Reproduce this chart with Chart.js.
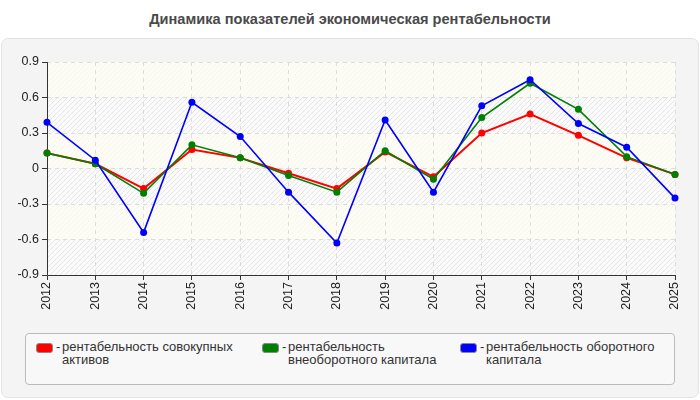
<!DOCTYPE html>
<html>
<head>
<meta charset="utf-8">
<script src="https://cdn.jsdelivr.net/npm/chart.js@4/dist/chart.umd.min.js"></script>
<style>
  body { margin: 0; width: 700px; height: 400px; background: #fff; font-family: "Liberation Sans", Arial, sans-serif; position: relative; overflow: hidden; }
  #title { position: absolute; top: 11px; left: 0; width: 700px; text-align: center; font-weight: bold; font-size: 14.6px; color: #4a4a4a; }
  #panel { position: absolute; left: 1px; top: 38px; width: 696px; height: 358px; background: #f4f4f4; border: 1px solid #e4e4e4; border-radius: 7px; }
  #wrap { position: absolute; left: 0; top: 0; width: 700px; height: 400px; }
  #legend { position: absolute; left: 25px; top: 333px; width: 648px; height: 50px; border: 1px solid #bbb; border-radius: 4px; background: #f8f8f8; }
  .item { position: absolute; top: 6px; font-size: 13px; color: #333; line-height: 13px; }
  .sw { position: absolute; left: 0; top: 3px; width: 15px; height: 8px; border-radius: 3px; border: 1px solid #888; }
  .txt { position: absolute; left: 26px; top: 0; }
  .dash { position: absolute; left: 20px; top: 0; }
</style>
</head>
<body>
<div id="title">Динамика показателей экономическая рентабельности</div>
<div id="panel"></div>
<div id="wrap"><canvas id="chart" width="700" height="400"></canvas></div>
<div id="legend"></div>
<script>
// Years and series values
const years = ['2012', '2013', '2014', '2015', '2016', '2017', '2018', '2019', '2020', '2021', '2022', '2023', '2024', '2025'];
const totalAssets = [0.13, 0.04, -0.17, 0.16, 0.09, -0.04, -0.17, 0.14, -0.07, 0.30, 0.46, 0.28, 0.09, -0.05];
const fixedCapital = [0.13, 0.04, -0.21, 0.20, 0.09, -0.06, -0.20, 0.15, -0.09, 0.43, 0.72, 0.50, 0.10, -0.05];
const workingCapital = [0.39, 0.07, -0.54, 0.56, 0.27, -0.20, -0.63, 0.41, -0.20, 0.53, 0.75, 0.38, 0.18, -0.25];
const seriesLabels = ['рентабельность совокупных активов', 'рентабельность внеоборотного капитала', 'рентабельность оборотного капитала'];
const seriesColors = ['#ff0000', '#008000', '#0000ff'];
const yTicks = [-0.9, -0.6, -0.3, 0, 0.3, 0.6, 0.9];

// Striped / hatched plot background
const bandsPlugin = {
    id: 'bands',
    beforeDraw(chart) {
        const { ctx, chartArea, scales } = chart;
        const y = scales.y;
        const hatch = document.createElement('canvas');
        hatch.width = 5; hatch.height = 5;
        const h = hatch.getContext('2d');
        h.strokeStyle = '#e6e6e6';
        h.lineWidth = 1;
        h.beginPath(); h.moveTo(0, 5); h.lineTo(5, 0); h.stroke();
        const pattern = ctx.createPattern(hatch, 'repeat');
        ctx.save();
        for (let i = 0; i < yTicks.length - 1; i++) {
            const top = y.getPixelForValue(yTicks[yTicks.length - 1 - i]);
            const bottom = y.getPixelForValue(yTicks[yTicks.length - 2 - i]);
            ctx.fillStyle = i % 2 === 0 ? '#fdfdf5' : '#fbfbfb';
            ctx.fillRect(chartArea.left, top, chartArea.right - chartArea.left, bottom - top);
            ctx.globalAlpha = i % 2 === 0 ? 0.3 : 1;
            ctx.fillStyle = pattern;
            ctx.fillRect(chartArea.left, top, chartArea.right - chartArea.left, bottom - top);
            ctx.globalAlpha = 1;
        }
        ctx.restore();
    },
    // solid axis lines on the left and bottom
    beforeDatasetsDraw(chart) {
        const { ctx, chartArea } = chart;
        ctx.save();
        ctx.strokeStyle = '#333';
        ctx.lineWidth = 1;
        ctx.setLineDash([]);
        ctx.beginPath();
        ctx.moveTo(chartArea.left + 0.5, chartArea.top);
        ctx.lineTo(chartArea.left + 0.5, chartArea.bottom + 0.5);
        ctx.lineTo(chartArea.right, chartArea.bottom + 0.5);
        ctx.stroke();
        ctx.restore();
    }
};

const ctx = document.getElementById('chart').getContext('2d');
new Chart(ctx, {
    type: 'line',
    data: {
        labels: years,
        datasets: [totalAssets, fixedCapital, workingCapital].map((d, i) => ({
            label: seriesLabels[i],
            data: d,
            borderColor: seriesColors[i],
            backgroundColor: seriesColors[i],
            borderWidth: i === 0 ? 2 : 1.6,
            pointRadius: 3.5,
            pointBorderWidth: 0,
            tension: 0,
            order: 2 - i
        }))
    },
    options: {
        responsive: false,
        animation: false,
        layout: { padding: { top: 62, right: 25, bottom: 0, left: 0 } },
        plugins: { legend: { display: false }, tooltip: { enabled: false } },
        scales: {
            x: {
                afterFit: s => { s.height = 125; },
                grid: { color: '#dcdcdc', tickColor: '#333', tickLength: 5, tickBorderDash: [] },
                border: { display: false, dash: [4, 4] },
                ticks: { color: '#222', font: { family: 'Liberation Sans', size: 12.5 }, minRotation: 90, maxRotation: 90, padding: 2 }
            },
            y: {
                min: -0.9, max: 0.9,
                afterFit: s => { s.width = 47; },
                afterBuildTicks: s => { s.ticks = yTicks.map(v => ({ value: v })); },
                grid: { color: '#dcdcdc', tickColor: '#333', tickLength: 5, tickBorderDash: [] },
                border: { display: false, dash: [4, 4] },
                ticks: { color: '#222', font: { family: 'Liberation Sans', size: 12.5 }, padding: 3, callback: v => String(v) }
            }
        }
    },
    plugins: [bandsPlugin]
});

// HTML legend so the labels can wrap
const legendPos = [10, 236, 434];
const legendWidth = [180, 160, 180];
const legend = document.getElementById('legend');
seriesLabels.forEach((lab, i) => {
    const el = document.createElement('div');
    el.className = 'item';
    el.style.left = legendPos[i] + 'px';
    el.style.width = (legendWidth[i] + 26) + 'px';
    el.innerHTML = '<span class="sw" style="background:' + seriesColors[i] + '"></span>' +
        '<span class="dash">-</span><span class="txt" style="width:' + legendWidth[i] + 'px">' + lab + '</span>';
    legend.appendChild(el);
});
</script>
</body>
</html>
